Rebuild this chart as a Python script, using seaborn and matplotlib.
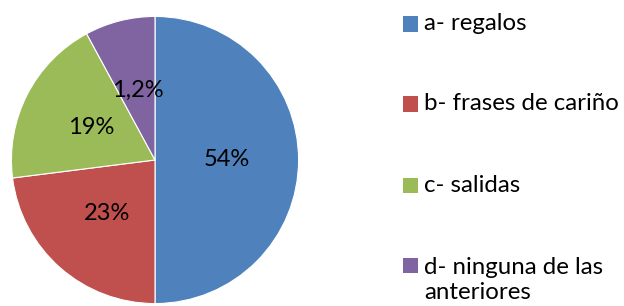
import matplotlib
matplotlib.use("Agg")
import matplotlib.pyplot as plt
import seaborn as sns
from matplotlib.patches import Rectangle

categorias = ["a- regalos", "b- frases de cariño", "c- salidas", "d- ninguna de las\nanteriores"]
porciones = [50, 23, 19.1, 7.9]
etiquetas = ["54%", "23%", "19%", "1,2%"]
colores = ["#4F81BD", "#C0504D", "#9BBB59", "#8064A2"]

sns.set_theme(style="white")
plt.rcParams['font.family'] = ['Lato', 'DejaVu Sans']

fig = plt.figure(figsize=(6.24, 3.06), dpi=100)
ax = fig.add_axes([10 / 624, 1 / 306, 290 / 624, 290 / 306])

it = iter(etiquetas)
wedges, textos, pcts = ax.pie(porciones, colors=colores, startangle=90, counterclock=False,
                              autopct=lambda p: next(it), pctdistance=0.5,
                              wedgeprops=dict(edgecolor="white", linewidth=0.8),
                              textprops=dict(fontsize=17, color="black"))
ax.set_xlim(-1.01, 1.01)
ax.set_ylim(-1.01, 1.01)

# leyenda manual
filas_y = [24, 104, 185, 265]
for cat, col, y in zip(categorias, colores, filas_y):
    fig.patches.append(Rectangle((403 / 624, 1 - (y + 7.5) / 306), 15 / 624, 15 / 306,
                                 transform=fig.transFigure, facecolor=col, edgecolor="none"))
    n = cat.count("\n")
    fig.text(424 / 624, 1 - (y + 15 * n) / 306, cat, fontsize=17.3, va="center", ha="left",
             linespacing=1.25, color="black")

fig.savefig("out.png", dpi=100)
